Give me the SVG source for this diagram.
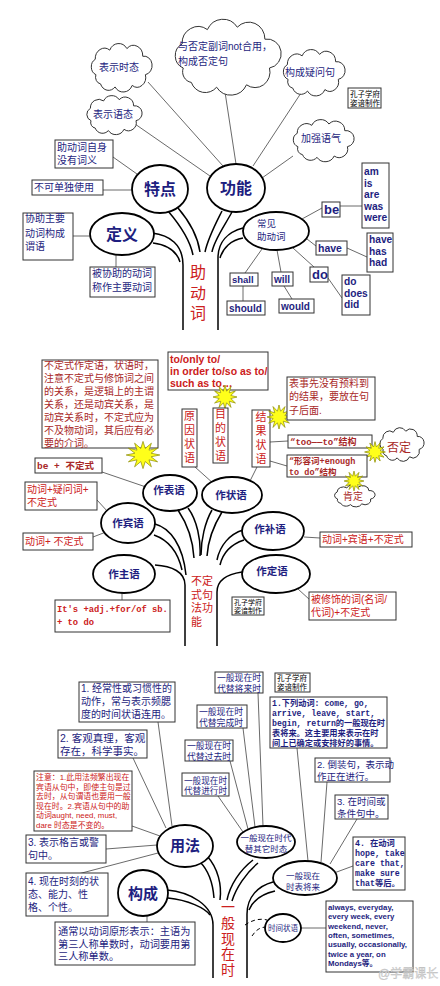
<svg xmlns="http://www.w3.org/2000/svg" width="440" height="986" viewBox="0 0 440 986">
<defs>
<style>
.bx{fill:#fff;stroke:#333;stroke-width:1}
.el{fill:#fff;stroke:#000;stroke-width:1.8}
.ln{fill:none;stroke:#444;stroke-width:0.8}
.tr{fill:none;stroke:#000;stroke-width:1.5}
.ds{fill:none;stroke:#000;stroke-width:1;stroke-dasharray:4 3}
.cj{font-family:"Liberation Sans","Noto Sans CJK SC",sans-serif}
.nv{fill:#1e1e80}
.rd{fill:#cc2020}
.dr{fill:#a82828}
.bk{fill:#000}
.en{font-family:"Liberation Sans","Noto Sans CJK SC",sans-serif;font-weight:bold}
.mo{font-family:"Liberation Mono","Noto Sans CJK SC",monospace;font-weight:bold}
.bd{font-weight:bold}
.st{fill:#ffff1a;stroke:#8a8a00;stroke-width:0.7}
.m{text-anchor:middle}
</style>
<symbol id="cloud" viewBox="0 0 100 60" preserveAspectRatio="none" overflow="visible">
<path d="M15,40 A11,11 0 0 1 14,20 A14,14 0 0 1 36,8 A15,15 0 0 1 62,6 A14,14 0 0 1 86,16 A11,11 0 0 1 90,40 A13,13 0 0 1 70,54 A15,15 0 0 1 44,56 A13,13 0 0 1 22,52 A9,9 0 0 1 15,40 Z" fill="#fff" stroke="#333" stroke-width="1" vector-effect="non-scaling-stroke"/>
</symbol>
<polygon id="star" class="st" vector-effect="non-scaling-stroke" points="16,0 7.7,2.1 13.9,8 5.7,5.7 8,13.9 2.1,7.7 0,16 -2.1,7.7 -8,13.9 -5.7,5.7 -13.9,8 -7.7,2.1 -16,0 -7.7,-2.1 -13.9,-8 -5.7,-5.7 -8,-13.9 -2.1,-7.7 0,-16 2.1,-7.7 8,-13.9 5.7,-5.7 13.9,-8 7.7,-2.1"/>
</defs>
<rect width="440" height="986" fill="#fff"/>

<!-- connectors -->
<g id="connectors" class="ln">
<line x1="148" y1="82" x2="223" y2="166"/>
<line x1="135" y1="124" x2="210" y2="176"/>
<line x1="225" y1="92" x2="236" y2="164"/>
<line x1="301" y1="93" x2="253" y2="166"/>
<line x1="293" y1="156" x2="262" y2="178"/>
<line x1="113" y1="157" x2="137" y2="174"/>
<line x1="103" y1="190" x2="132" y2="190"/>
<line x1="73" y1="236" x2="90" y2="236"/>
<line x1="116" y1="255" x2="116" y2="267"/>
<line x1="302" y1="219" x2="322" y2="208"/>
<line x1="340" y1="206" x2="362" y2="206"/>
<line x1="307" y1="239" x2="316" y2="246"/>
<line x1="347" y1="248" x2="367" y2="257"/>
<line x1="293" y1="248" x2="314" y2="267"/>
<line x1="328" y1="278" x2="342" y2="298"/>
<line x1="262" y1="249" x2="245" y2="273"/>
<line x1="277" y1="250" x2="281" y2="272"/>
<line x1="243" y1="286" x2="243" y2="301"/>
<line x1="284" y1="286" x2="292" y2="299"/>
<line x1="270" y1="442" x2="288" y2="441"/>
<line x1="270" y1="461" x2="287" y2="466"/>
<line x1="102" y1="472" x2="146" y2="487"/>
<line x1="195" y1="467" x2="214" y2="484"/>
<line x1="257" y1="467" x2="250" y2="481"/>
<line x1="97" y1="500" x2="108" y2="512"/>
<line x1="93" y1="537" x2="106" y2="532"/>
<line x1="122" y1="593" x2="122" y2="600"/>
<line x1="304" y1="537" x2="320" y2="538"/>
<line x1="298" y1="589" x2="310" y2="600"/>
<line x1="158" y1="722" x2="172" y2="826"/>
<line x1="133" y1="758" x2="166" y2="828"/>
<line x1="132" y1="826" x2="160" y2="836"/>
<line x1="106" y1="849" x2="157" y2="845"/>
<line x1="78" y1="874" x2="158" y2="853"/>
<line x1="258" y1="693" x2="263" y2="826"/>
<line x1="243" y1="728" x2="255" y2="827"/>
<line x1="230" y1="761" x2="248" y2="829"/>
<line x1="218" y1="796" x2="243" y2="832"/>
<line x1="297" y1="748" x2="308" y2="861"/>
<line x1="327" y1="782" x2="321" y2="862"/>
<line x1="357" y1="819" x2="330" y2="864"/>
<line x1="353" y1="866" x2="334" y2="873"/>
<line x1="147" y1="916" x2="147" y2="922"/>
<line x1="301" y1="928" x2="326" y2="928"/>
<path class="ds" d="M245,925 C252,920 260,918 267,920"/>
<path class="ds" d="M252,936 C256,930 260,927 267,927"/>
</g>

<!-- tree trunks -->
<g id="trees" class="tr">
<path d="M152,233 C170,235 183,245 183,265 L183,330"/>
<path d="M153,243 C168,245 177,252 180,262"/>
<path d="M168,211 C180,225 190,240 193,255"/>
<path d="M178,208 C190,222 198,238 200,252"/>
<path d="M243,228 C228,232 218,242 218,258 L218,330"/>
<path d="M243,238 C231,240 223,248 220,258"/>
<path d="M222,211 C215,225 208,238 205,252"/>
<path d="M232,212 C225,225 214,240 212,252"/>
<path d="M155,565 C172,566 185,572 185,585 L185,646"/>
<path d="M155,524 C170,528 183,545 186,575"/>
<path d="M154,535 C168,540 178,552 182,570"/>
<path d="M178,510 C188,525 193,540 194,558"/>
<path d="M188,508 C197,520 201,540 200,556"/>
<path d="M222,512 C214,525 208,540 207,556"/>
<path d="M212,510 C205,522 201,540 201,555"/>
<path d="M242,572 C228,574 217,580 217,592 L217,646"/>
<path d="M243,530 C230,534 220,545 217,560"/>
<path d="M244,540 C232,544 223,552 220,565"/>
<path d="M167,890 C190,892 213,905 213,925 L213,978"/>
<path d="M168,898 C188,900 205,908 210,915"/>
<path d="M200,862 C210,872 213,885 214,898"/>
<path d="M207,856 C218,868 222,885 220,900"/>
<path d="M253,860 C240,870 230,885 227,900"/>
<path d="M258,863 C246,873 236,888 232,901"/>
<path d="M273,882 C258,886 247,897 247,914 L247,978"/>
<path d="M275,891 C262,894 253,900 249,910"/>
</g>

<!-- ===== TOP PANEL ===== -->
<g id="cloud-tense"><use href="#cloud" x="86" y="44" width="66" height="46"/><text x="119" y="71" class="cj nv m" font-size="10">表示时态</text></g>
<g id="cloud-negative"><use href="#cloud" x="166" y="20" width="115" height="72"/><text class="cj nv" font-size="10"><tspan x="178" y="50">与否定副词not合用，</tspan><tspan x="178" y="65">构成否定句</tspan></text></g>
<g id="cloud-question"><use href="#cloud" x="278" y="50" width="67" height="44"/><text x="310" y="76" class="cj nv m" font-size="10">构成疑问句</text></g>
<g id="cloud-emphasis"><use href="#cloud" x="288" y="120" width="66" height="40"/><text x="321" y="142" class="cj nv m" font-size="10">加强语气</text></g>
<g id="cloud-voice"><use href="#cloud" x="82" y="96" width="60" height="37"/><text x="113" y="118" class="cj nv m" font-size="10">表示语态</text></g>
<g id="credit-top"><rect class="bx" x="348" y="88" width="33" height="20"/><text class="cj bk" font-size="7.5"><tspan x="350" y="97">孔子学府</tspan><tspan x="350" y="106">姿谙制作</tspan></text></g>

<g id="box-nomeaning"><rect class="bx" x="55" y="140" width="58" height="28"/><text class="cj nv" font-size="10"><tspan x="57" y="151">助动词自身</tspan><tspan x="57" y="164">没有词义</tspan></text></g>
<g id="box-notalone"><rect class="bx" x="32" y="180" width="71" height="15"/><text x="34" y="191" class="cj nv" font-size="10">不可单独使用</text></g>
<g id="node-tedian"><ellipse class="el" cx="160" cy="189" rx="28" ry="24"/><text x="160" y="195" class="cj nv m bd" font-size="16">特点</text></g>
<g id="node-gongneng"><ellipse class="el" cx="236" cy="188" rx="29" ry="24"/><text x="236" y="194" class="cj nv m bd" font-size="16">功能</text></g>
<g id="box-help"><rect class="bx" x="23" y="213" width="50" height="47"/><text class="cj nv" font-size="10"><tspan x="25" y="222">协助主要</tspan><tspan x="25" y="237">动词构成</tspan><tspan x="25" y="250">谓语</tspan></text></g>
<g id="node-dingyi"><ellipse class="el" cx="122" cy="234" rx="32" ry="21"/><text x="122" y="240" class="cj nv m bd" font-size="16">定义</text></g>
<g id="box-main"><rect class="bx" x="90" y="267" width="65" height="30"/><text class="cj nv" font-size="10"><tspan x="92" y="277">被协助的动词</tspan><tspan x="92" y="291">称作主要动词</tspan></text></g>
<g id="label-zhudongci"><text class="cj rd m" font-size="16"><tspan x="198" y="278">助</tspan><tspan x="198" y="299">动</tspan><tspan x="198" y="319">词</tspan></text></g>
<g id="node-common"><ellipse class="el" cx="276" cy="231" rx="33" ry="19"/><text class="cj nv" font-size="9.5"><tspan x="257" y="227">常见</tspan><tspan x="257" y="240">助动词</tspan></text></g>
<g id="box-be"><rect class="bx" x="322" y="202" width="18" height="15"/><text x="324" y="214" class="en nv" font-size="13" font-weight="normal">be</text></g>
<g id="box-am"><rect class="bx" x="362" y="163" width="27" height="65"/><text class="en nv" font-size="10.2"><tspan x="364" y="175">am</tspan><tspan x="364" y="186.5">is</tspan><tspan x="364" y="198">are</tspan><tspan x="364" y="209.5">was</tspan><tspan x="364" y="221">were</tspan></text></g>
<g id="box-have"><rect class="bx" x="316" y="241" width="31" height="14"/><text x="318" y="252" class="en nv" font-size="10.5">have</text></g>
<g id="box-has"><rect class="bx" x="367" y="233" width="26" height="39"/><text class="en nv" font-size="10.2"><tspan x="369" y="243">have</tspan><tspan x="369" y="254.5">has</tspan><tspan x="369" y="266">had</tspan></text></g>
<g id="box-do"><rect class="bx" x="310" y="267" width="18" height="15"/><text x="312" y="279" class="en nv" font-size="13" font-weight="normal">do</text></g>
<g id="box-does"><rect class="bx" x="342" y="275" width="28" height="40"/><text class="en nv" font-size="10.2"><tspan x="344" y="285">do</tspan><tspan x="344" y="296.5">does</tspan><tspan x="344" y="308">did</tspan></text></g>
<g id="box-shall"><rect class="bx" x="230" y="273" width="28" height="13"/><text x="232" y="283" class="en nv" font-size="9.5">shall</text></g>
<g id="box-should"><rect class="bx" x="227" y="301" width="38" height="14"/><text x="229" y="312" class="en nv" font-size="10">should</text></g>
<g id="box-will"><rect class="bx" x="272" y="272" width="21" height="14"/><text x="274" y="283" class="en nv" font-size="10">will</text></g>
<g id="box-would"><rect class="bx" x="279" y="299" width="35" height="14"/><text x="281" y="310" class="en nv" font-size="10">would</text></g>

<!-- ===== MIDDLE PANEL ===== -->
<g id="box-note-mid"><rect class="bx" x="42" y="360" width="116" height="88"/><text class="cj dr" font-size="10"><tspan x="44" y="369">不定式作定语，状语时，</tspan><tspan x="44" y="382">注意不定式与修饰词之间</tspan><tspan x="44" y="395">的关系，是逻辑上的主谓</tspan><tspan x="44" y="408">关系，还是动宾关系，是</tspan><tspan x="44" y="421">动宾关系时，不定式应为</tspan><tspan x="44" y="434">不及物动词，其后应有必</tspan><tspan x="44" y="447">要的介词。</tspan></text></g>
<use href="#star" transform="translate(143,455) scale(1.05,0.85)"/>
<g id="box-purpose-words"><rect class="bx" x="168" y="352" width="100" height="38"/><text class="en rd" font-size="10.5"><tspan x="170" y="363">to/only to/</tspan><tspan x="170" y="375">in order to/so as to/</tspan><tspan x="170" y="387">such as to…</tspan></text></g>
<use href="#star" transform="translate(225,397) scale(0.75)"/>
<g id="box-reason"><rect class="bx" x="182" y="409" width="15" height="58"/><text class="cj rd m" font-size="11"><tspan x="189.5" y="420">原</tspan><tspan x="189.5" y="434">因</tspan><tspan x="189.5" y="448">状</tspan><tspan x="189.5" y="462">语</tspan></text></g>
<g id="box-purpose"><rect class="bx" x="213" y="408" width="15" height="55"/><text class="cj rd m" font-size="11"><tspan x="220.5" y="418">目</tspan><tspan x="220.5" y="432">的</tspan><tspan x="220.5" y="446">状</tspan><tspan x="220.5" y="460">语</tspan></text></g>
<g id="box-result"><rect class="bx" x="252" y="410" width="18" height="57"/><text class="cj rd m" font-size="11"><tspan x="261" y="421">结</tspan><tspan x="261" y="435">果</tspan><tspan x="261" y="449">状</tspan><tspan x="261" y="463">语</tspan></text></g>
<use href="#star" transform="translate(279,417) scale(0.75)"/>
<g id="box-unexpected"><rect class="bx" x="287" y="377" width="88" height="43"/><text class="cj dr" font-size="10"><tspan x="289" y="387">表事先没有预料到</tspan><tspan x="289" y="400">的结果，要放在句</tspan><tspan x="289" y="414">子后面.</tspan></text></g>
<g id="box-too"><rect class="bx" x="288" y="435" width="84" height="13"/><text x="290" y="445" class="mo dr" font-size="9" font-weight="normal">“too——to”结构</text></g>
<g id="cloud-neg"><use href="#cloud" x="376" y="428" width="48" height="32"/><text x="399" y="452" class="cj dr m" font-size="12">否定</text></g>
<use href="#star" transform="translate(375,452) scale(0.65)"/>
<g id="box-enough"><rect class="bx" x="287" y="455" width="80" height="22"/><text class="mo dr" font-size="8.5" font-weight="normal"><tspan x="289" y="464">“形容词+enough</tspan><tspan x="289" y="475">to do”结构</tspan></text></g>
<g id="cloud-pos"><use href="#cloud" x="331" y="485" width="44" height="21"/><text x="353" y="500" class="cj dr m" font-size="10">肯定</text></g>
<use href="#star" transform="translate(354,481) scale(0.62)"/>
<g id="box-be-inf"><rect class="bx" x="35" y="458" width="67" height="15"/><text x="37" y="469" class="mo dr" font-size="9.5" font-weight="normal">be + 不定式</text></g>
<g id="node-biaoyu"><ellipse class="el" cx="170" cy="493" rx="27" ry="18"/><text x="169" y="494" class="cj nv m bd" font-size="10.5">作表语</text></g>
<g id="node-zhuangyu"><ellipse class="el" cx="232" cy="495" rx="30" ry="18"/><text x="231" y="499" class="cj nv m bd" font-size="10.5">作状语</text></g>
<g id="box-wh"><rect class="bx" x="25" y="482" width="72" height="28"/><text class="cj rd" font-size="10"><tspan x="27" y="493">动词+疑问词+</tspan><tspan x="27" y="506">不定式</tspan></text></g>
<g id="node-binyu"><ellipse class="el" cx="128" cy="523" rx="27" ry="20"/><text x="128" y="527" class="cj nv m bd" font-size="10.5">作宾语</text></g>
<g id="box-v-inf"><rect class="bx" x="23" y="533" width="70" height="17"/><text x="25" y="545" class="cj rd" font-size="10">动词+ 不定式</text></g>
<g id="node-zhuyu"><ellipse class="el" cx="124" cy="574" rx="31" ry="19"/><text x="124" y="578" class="cj nv m bd" font-size="10.5">作主语</text></g>
<g id="box-its"><rect class="bx" x="55" y="600" width="115" height="32"/><text class="mo rd" font-size="8.8" font-weight="normal"><tspan x="57" y="612">It's +adj.+for/of sb.</tspan><tspan x="57" y="625">+ to do</tspan></text></g>
<g id="label-inf"><text class="cj rd" font-size="11"><tspan x="191" y="585">不定</tspan><tspan x="191" y="598.5">式句</tspan><tspan x="191" y="612">法功</tspan><tspan x="191" y="625.5">能</tspan></text></g>
<g id="node-buyu"><ellipse class="el" cx="273" cy="531" rx="31" ry="19"/><text x="270" y="533" class="cj nv m bd" font-size="10.5">作补语</text></g>
<g id="box-voi"><rect class="bx" x="320" y="532" width="92" height="15"/><text x="322" y="543" class="cj rd" font-size="10">动词+宾语+不定式</text></g>
<g id="node-dingyu"><ellipse class="el" cx="276" cy="574" rx="34" ry="19"/><text x="272" y="575" class="cj nv m bd" font-size="10.5">作定语</text></g>
<g id="box-modified"><rect class="bx" x="309" y="592" width="87" height="28"/><text class="cj rd" font-size="10"><tspan x="311" y="603">被修饰的词(名词/</tspan><tspan x="311" y="616">代词)+不定式</tspan></text></g>
<g id="credit-mid"><rect class="bx" x="232" y="597" width="32" height="18"/><text class="cj bk" font-size="7"><tspan x="234" y="604.5">孔子学府</tspan><tspan x="234" y="613">姿谙制作</tspan></text></g>

<!-- ===== BOTTOM PANEL ===== -->
<g id="box-habit"><rect class="bx" x="79" y="682" width="96" height="40"/><text class="cj nv" font-size="10"><tspan x="81" y="692">1. 经常性或习惯性的</tspan><tspan x="81" y="705">动作，常与表示频腮</tspan><tspan x="81" y="718">度的时间状语连用。</tspan></text></g>
<g id="box-truth"><rect class="bx" x="58" y="730" width="89" height="28"/><text class="cj nv" font-size="10.5"><tspan x="60" y="742">2. 客观真理，客观</tspan><tspan x="60" y="755">存在，科学事实。</tspan></text></g>
<g id="box-attention"><rect class="bx" x="34" y="771" width="98" height="60"/><text class="cj rd" font-size="7.9"><tspan x="36" y="780">注意：1.此用法频繁出现在</tspan><tspan x="36" y="789.5">宾语从句中，即使主句是过</tspan><tspan x="36" y="799">去时，从句谓语也要用一般</tspan><tspan x="36" y="808.5">现在时。2.宾语从句中的助</tspan><tspan x="36" y="818">动词aught, need, must,</tspan><tspan x="36" y="827.5">dare 时态是不变的。</tspan></text></g>
<g id="box-future-sub"><rect class="bx" x="215" y="672" width="48" height="21"/><text class="cj nv" font-size="8.8"><tspan x="217" y="681">一般现在时</tspan><tspan x="217" y="691.5">代替将来时</tspan></text></g>
<g id="credit-bot"><rect class="bx" x="275" y="673" width="35" height="19"/><text class="cj bk" font-size="7.5"><tspan x="277" y="681">孔子学府</tspan><tspan x="277" y="690">姿谙制作</tspan></text></g>
<g id="box-perfect-sub"><rect class="bx" x="197" y="705" width="50" height="23"/><text class="cj nv" font-size="8.8"><tspan x="199" y="715">一般现在时</tspan><tspan x="199" y="726">代替完成时</tspan></text></g>
<g id="box-past-sub"><rect class="bx" x="185" y="740" width="48" height="21"/><text class="cj nv" font-size="8.8"><tspan x="187" y="749">一般现在时</tspan><tspan x="187" y="759.5">代替过去时</tspan></text></g>
<g id="box-prog-sub"><rect class="bx" x="182" y="773" width="47" height="23"/><text class="cj nv" font-size="8.6"><tspan x="184" y="783.5">一般现在时</tspan><tspan x="184" y="794">代替进行时</tspan></text></g>
<g id="box-verbs"><rect class="bx" x="270" y="697" width="117" height="51"/><text class="mo nv" font-size="8.2"><tspan x="272" y="706">1.下列动词: come, go,</tspan><tspan x="272" y="716">arrive, leave, start,</tspan><tspan x="272" y="726">begin, return的一般现在时</tspan><tspan x="272" y="736">表将来。这主要用来表示在时</tspan><tspan x="272" y="746">间上已确定或安排好的事情。</tspan></text></g>
<g id="box-inversion"><rect class="bx" x="315" y="758" width="75" height="24"/><text class="cj nv" font-size="9.5"><tspan x="317" y="768">2. 倒装句，表示动</tspan><tspan x="317" y="780">作正在进行。</tspan></text></g>
<g id="box-clause"><rect class="bx" x="335" y="795" width="53" height="24"/><text class="cj nv" font-size="9.5"><tspan x="337" y="805">3. 在时间或</tspan><tspan x="337" y="817">条件句中。</tspan></text></g>
<g id="box-hope"><rect class="bx" x="353" y="837" width="52" height="53"/><text class="mo nv" font-size="8.3"><tspan x="355" y="846">4. 在动词</tspan><tspan x="355" y="856">hope, take</tspan><tspan x="355" y="866">care that,</tspan><tspan x="355" y="876">make sure</tspan><tspan x="355" y="886">that等后。</tspan></text></g>
<g id="node-other"><ellipse class="el" cx="266" cy="842" rx="29" ry="16"/><text class="cj nv m" font-size="8.5"><tspan x="266" y="841">一般现在时代</tspan><tspan x="266" y="852">替其它时态</tspan></text></g>
<g id="node-future"><ellipse class="el" cx="305" cy="878" rx="32" ry="17"/><text class="cj nv m" font-size="8.5"><tspan x="303" y="879">一般现在</tspan><tspan x="303" y="890">时表将来</tspan></text></g>
<g id="node-time"><ellipse class="el" cx="283" cy="928" rx="18" ry="14"/><text x="283" y="931" class="cj nv m" font-size="7.5">时间状语</text></g>
<g id="box-always"><rect class="bx" x="326" y="901" width="87" height="71"/><text class="en nv" font-size="7.8"><tspan x="328" y="910">always, everyday,</tspan><tspan x="328" y="919.3">every week, every</tspan><tspan x="328" y="928.7">weekend, never,</tspan><tspan x="328" y="938">often, sometimes,</tspan><tspan x="328" y="947.3">usually, occasionally,</tspan><tspan x="328" y="956.7">twice a year, on</tspan><tspan x="328" y="966">Mondays等。</tspan></text></g>
<g id="node-yongfa"><ellipse class="el" cx="185" cy="846" rx="28" ry="21"/><text x="185" y="851" class="cj nv m bd" font-size="15">用法</text></g>
<g id="box-maxim"><rect class="bx" x="26" y="835" width="80" height="28"/><text class="cj nv" font-size="10"><tspan x="28" y="846">3. 表示格言或警</tspan><tspan x="28" y="859">句中。</tspan></text></g>
<g id="box-state"><rect class="bx" x="26" y="873" width="82" height="43"/><text class="cj nv" font-size="10"><tspan x="28" y="885">4. 现在时刻的状</tspan><tspan x="28" y="898">态、能力、性</tspan><tspan x="28" y="911">格、个性。</tspan></text></g>
<g id="node-goucheng"><ellipse class="el" cx="143" cy="893" rx="25" ry="23"/><text x="143" y="899" class="cj nv m bd" font-size="15">构成</text></g>
<g id="box-form"><rect class="bx" x="55" y="922" width="140" height="43"/><text class="cj nv" font-size="10.2"><tspan x="58" y="935">通常以动词原形表示：主语为</tspan><tspan x="58" y="947.5">第三人称单数时，动词要用第</tspan><tspan x="58" y="960">三人称单数。</tspan></text></g>
<g id="label-present"><text class="cj rd m" font-size="14"><tspan x="228" y="912">一</tspan><tspan x="228" y="927.8">般</tspan><tspan x="228" y="943.6">现</tspan><tspan x="228" y="959.4">在</tspan><tspan x="228" y="975.2">时</tspan></text></g>
<text x="378" y="978" class="cj" font-size="12" fill="#d8d8d8" stroke="#bbb" stroke-width="0.3">@学霸课长</text>
</svg>
